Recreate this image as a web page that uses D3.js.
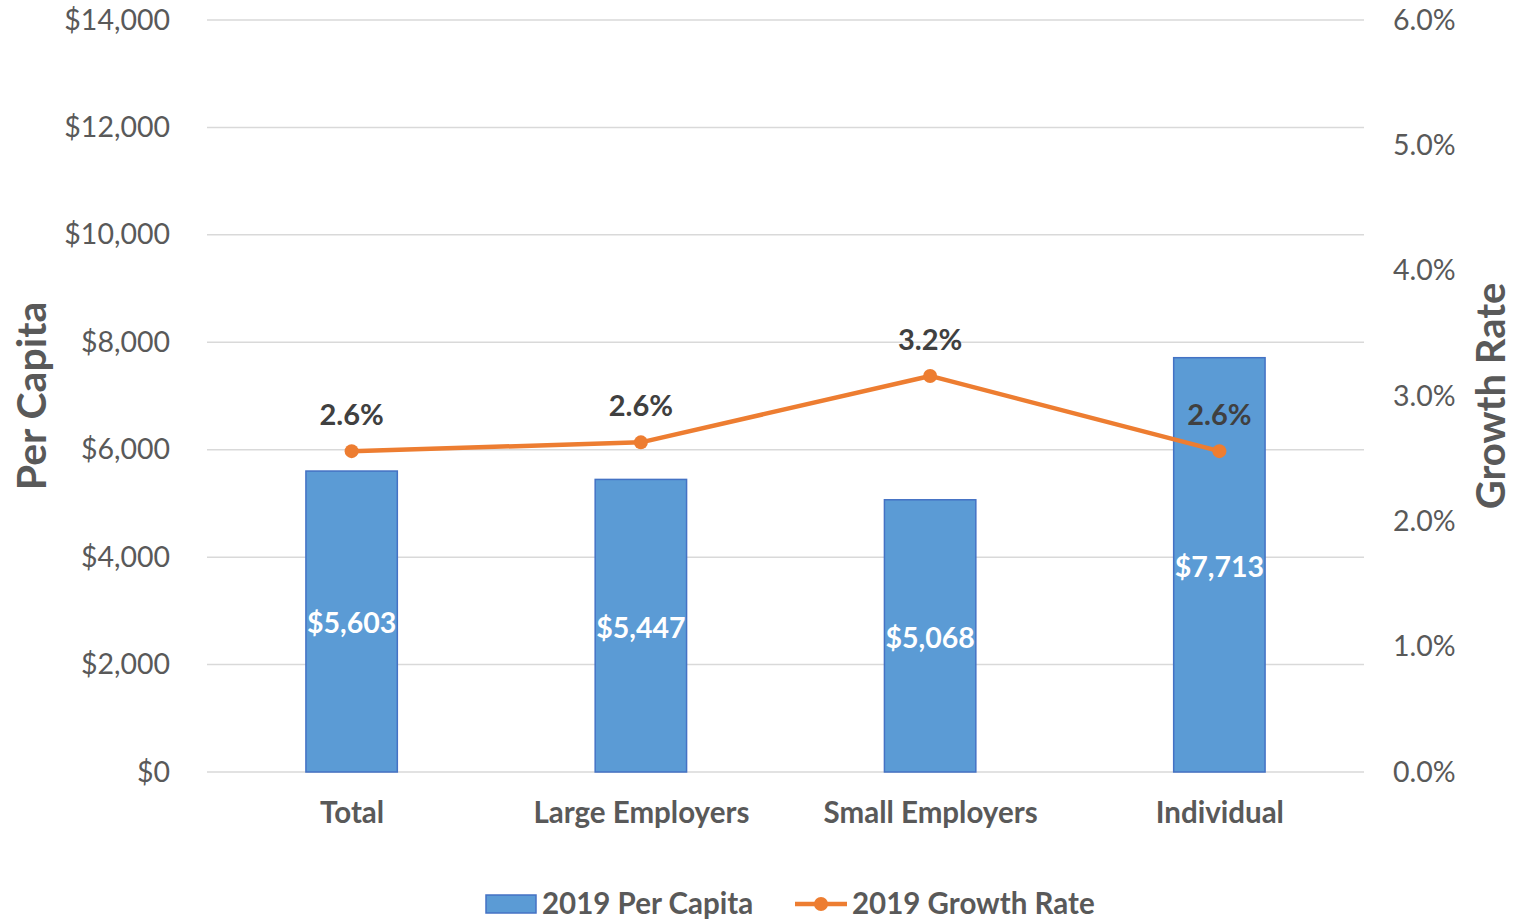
<!DOCTYPE html>
<html lang='en'>
  <head>
    <meta charset='utf-8'>
    <title>Per Capita and Growth Rate</title>
    <script type='text/javascript' src='https://cdn.jsdelivr.net/npm/d3@7/dist/d3.min.js'></script>
    <style type='text/css'>
      body { margin: 0; background: white; font-family: Lato, 'Open Sans', sans-serif; }
      svg { display: block; background-color: white; }
      .tick line { display: none; }
      .domain { display: none; }
    </style>
  </head>
  <body>
    <div id='chart'></div>
    <script type='text/javascript'>

    // Data
    var categories = ['Total', 'Large Employers', 'Small Employers', 'Individual'];
    var perCapita = [5603, 5447, 5068, 7713];
    var growthRate = [2.56, 2.63, 3.16, 2.56]; // percent
    var leftTicks = [0, 2000, 4000, 6000, 8000, 10000, 12000, 14000];
    var rightTicks = [0, 1, 2, 3, 4, 5, 6];
    var seriesNames = ['2019 Per Capita', '2019 Growth Rate'];

    var W = 1515, H = 919;
    var margin = { top: 20, right: 151, bottom: 147, left: 207 },
        width = W - margin.left - margin.right,
        height = H - margin.top - margin.bottom;

    var svg = d3.select('#chart').append('svg')
        .attr('width', W)
        .attr('height', H);
    var g = svg.append('g')
        .attr('transform', 'translate(' + margin.left + ',' + margin.top + ')');

    // Scales
    var x = d3.scaleBand().domain(categories).range([0, width]).paddingInner(0.684).paddingOuter(0.342);
    var xc = d3.scalePoint().domain(categories).range([0, width]).padding(0.5);
    var yL = d3.scaleLinear().domain([0, 14000]).range([height, 0]);
    var yR = d3.scaleLinear().domain([0, 6]).range([height, 0]);

    // Gridlines
    g.append('g').selectAll('line')
      .data(leftTicks)
      .enter().append('line')
      .attr('x1', 0).attr('x2', width)
      .attr('y1', function(d) { return yL(d); })
      .attr('y2', function(d) { return yL(d); })
      .attr('stroke', '#d9d9d9')
      .attr('stroke-width', 1.5);

    // Axes
    var leftAxis = g.append('g')
      .call(d3.axisLeft(yL).tickValues(leftTicks).tickSize(0).tickPadding(37)
        .tickFormat(function(d) { return '$' + d3.format(',')(d); }));
    var rightAxis = g.append('g')
      .attr('transform', 'translate(' + width + ',0)')
      .call(d3.axisRight(yR).tickValues(rightTicks).tickSize(0).tickPadding(29)
        .tickFormat(function(d) { return d.toFixed(1) + '%'; }));
    var bottomAxis = g.append('g')
      .attr('transform', 'translate(0,' + height + ')')
      .call(d3.axisBottom(xc).tickSize(0).tickPadding(30));

    [leftAxis, rightAxis].forEach(function(a) {
      a.selectAll('text')
        .style('font-family', 'Lato, sans-serif')
        .style('font-size', '28.5px')
        .attr('fill', '#595959');
    });
    bottomAxis.selectAll('text')
      .style('font-family', 'Lato, sans-serif')
      .style('font-size', '29.5px')
      .style('font-weight', 'bold')
      .attr('fill', '#595959');

    // Bars
    g.append('g').selectAll('rect')
      .data(categories)
      .enter().append('rect')
      .attr('x', function(d) { return x(d); })
      .attr('width', x.bandwidth())
      .attr('y', function(d, i) { return yL(perCapita[i]); })
      .attr('height', function(d, i) { return height - yL(perCapita[i]); })
      .attr('fill', '#5b9bd5')
      .attr('stroke', '#4472c4')
      .attr('stroke-width', 1.5);

    // Bar labels
    g.append('g').selectAll('text')
      .data(categories)
      .enter().append('text')
      .attr('x', function(d) { return xc(d); })
      .attr('y', function(d, i) { return (yL(perCapita[i]) + height) / 2 + 2; })
      .attr('dy', '0.35em')
      .attr('text-anchor', 'middle')
      .style('font-size', '28.5px')
      .style('font-weight', 'bold')
      .attr('fill', 'white')
      .text(function(d, i) { return '$' + d3.format(',')(perCapita[i]); });

    // Line
    var line = d3.line()
      .x(function(d) { return xc(d); })
      .y(function(d, i) { return yR(growthRate[i]); });
    g.append('path')
      .datum(categories)
      .attr('d', line)
      .attr('fill', 'none')
      .attr('stroke', '#ed7d31')
      .attr('stroke-width', 4.5)
      .attr('stroke-linejoin', 'round');
    g.append('g').selectAll('circle')
      .data(categories)
      .enter().append('circle')
      .attr('cx', function(d) { return xc(d); })
      .attr('cy', function(d, i) { return yR(growthRate[i]); })
      .attr('r', 7)
      .attr('fill', '#ed7d31');

    // Line labels
    g.append('g').selectAll('text')
      .data(categories)
      .enter().append('text')
      .attr('x', function(d) { return xc(d); })
      .attr('y', function(d, i) { return yR(growthRate[i]) - 26; })
      .attr('text-anchor', 'middle')
      .style('font-size', '29px')
      .style('font-weight', 'bold')
      .attr('fill', '#404040')
      .text(function(d, i) { return d3.format('.1%')(growthRate[i] / 100); });

    // Axis titles
    svg.append('text')
      .attr('transform', 'translate(46,' + (margin.top + height / 2) + ') rotate(-90)')
      .attr('text-anchor', 'middle')
      .style('font-size', '41px')
      .style('font-weight', 'bold')
      .attr('fill', '#595959')
      .text('Per Capita');
    svg.append('text')
      .attr('transform', 'translate(1505,' + (margin.top + height / 2) + ') rotate(-90)')
      .attr('text-anchor', 'middle')
      .style('font-size', '40px')
      .style('font-weight', 'bold')
      .attr('fill', '#595959')
      .text('Growth Rate');

    // Legend
    var legend = svg.append('g').attr('transform', 'translate(0,913)');
    legend.append('rect')
      .attr('x', 486).attr('y', -18).attr('width', 50).attr('height', 18)
      .attr('fill', '#5b9bd5').attr('stroke', '#4472c4').attr('stroke-width', 1.5);
    legend.append('text')
      .attr('x', 542).attr('y', 1)
      .style('font-size', '29.5px').style('font-weight', 'bold').attr('fill', '#595959')
      .text(seriesNames[0]);
    legend.append('line')
      .attr('x1', 795).attr('x2', 847).attr('y1', -9).attr('y2', -9)
      .attr('stroke', '#ed7d31').attr('stroke-width', 4.5);
    legend.append('circle')
      .attr('cx', 821).attr('cy', -9).attr('r', 7).attr('fill', '#ed7d31');
    legend.append('text')
      .attr('x', 852).attr('y', 1)
      .style('font-size', '29.5px').style('font-weight', 'bold').attr('fill', '#595959')
      .text(seriesNames[1]);

    </script>
  </body>
</html>
